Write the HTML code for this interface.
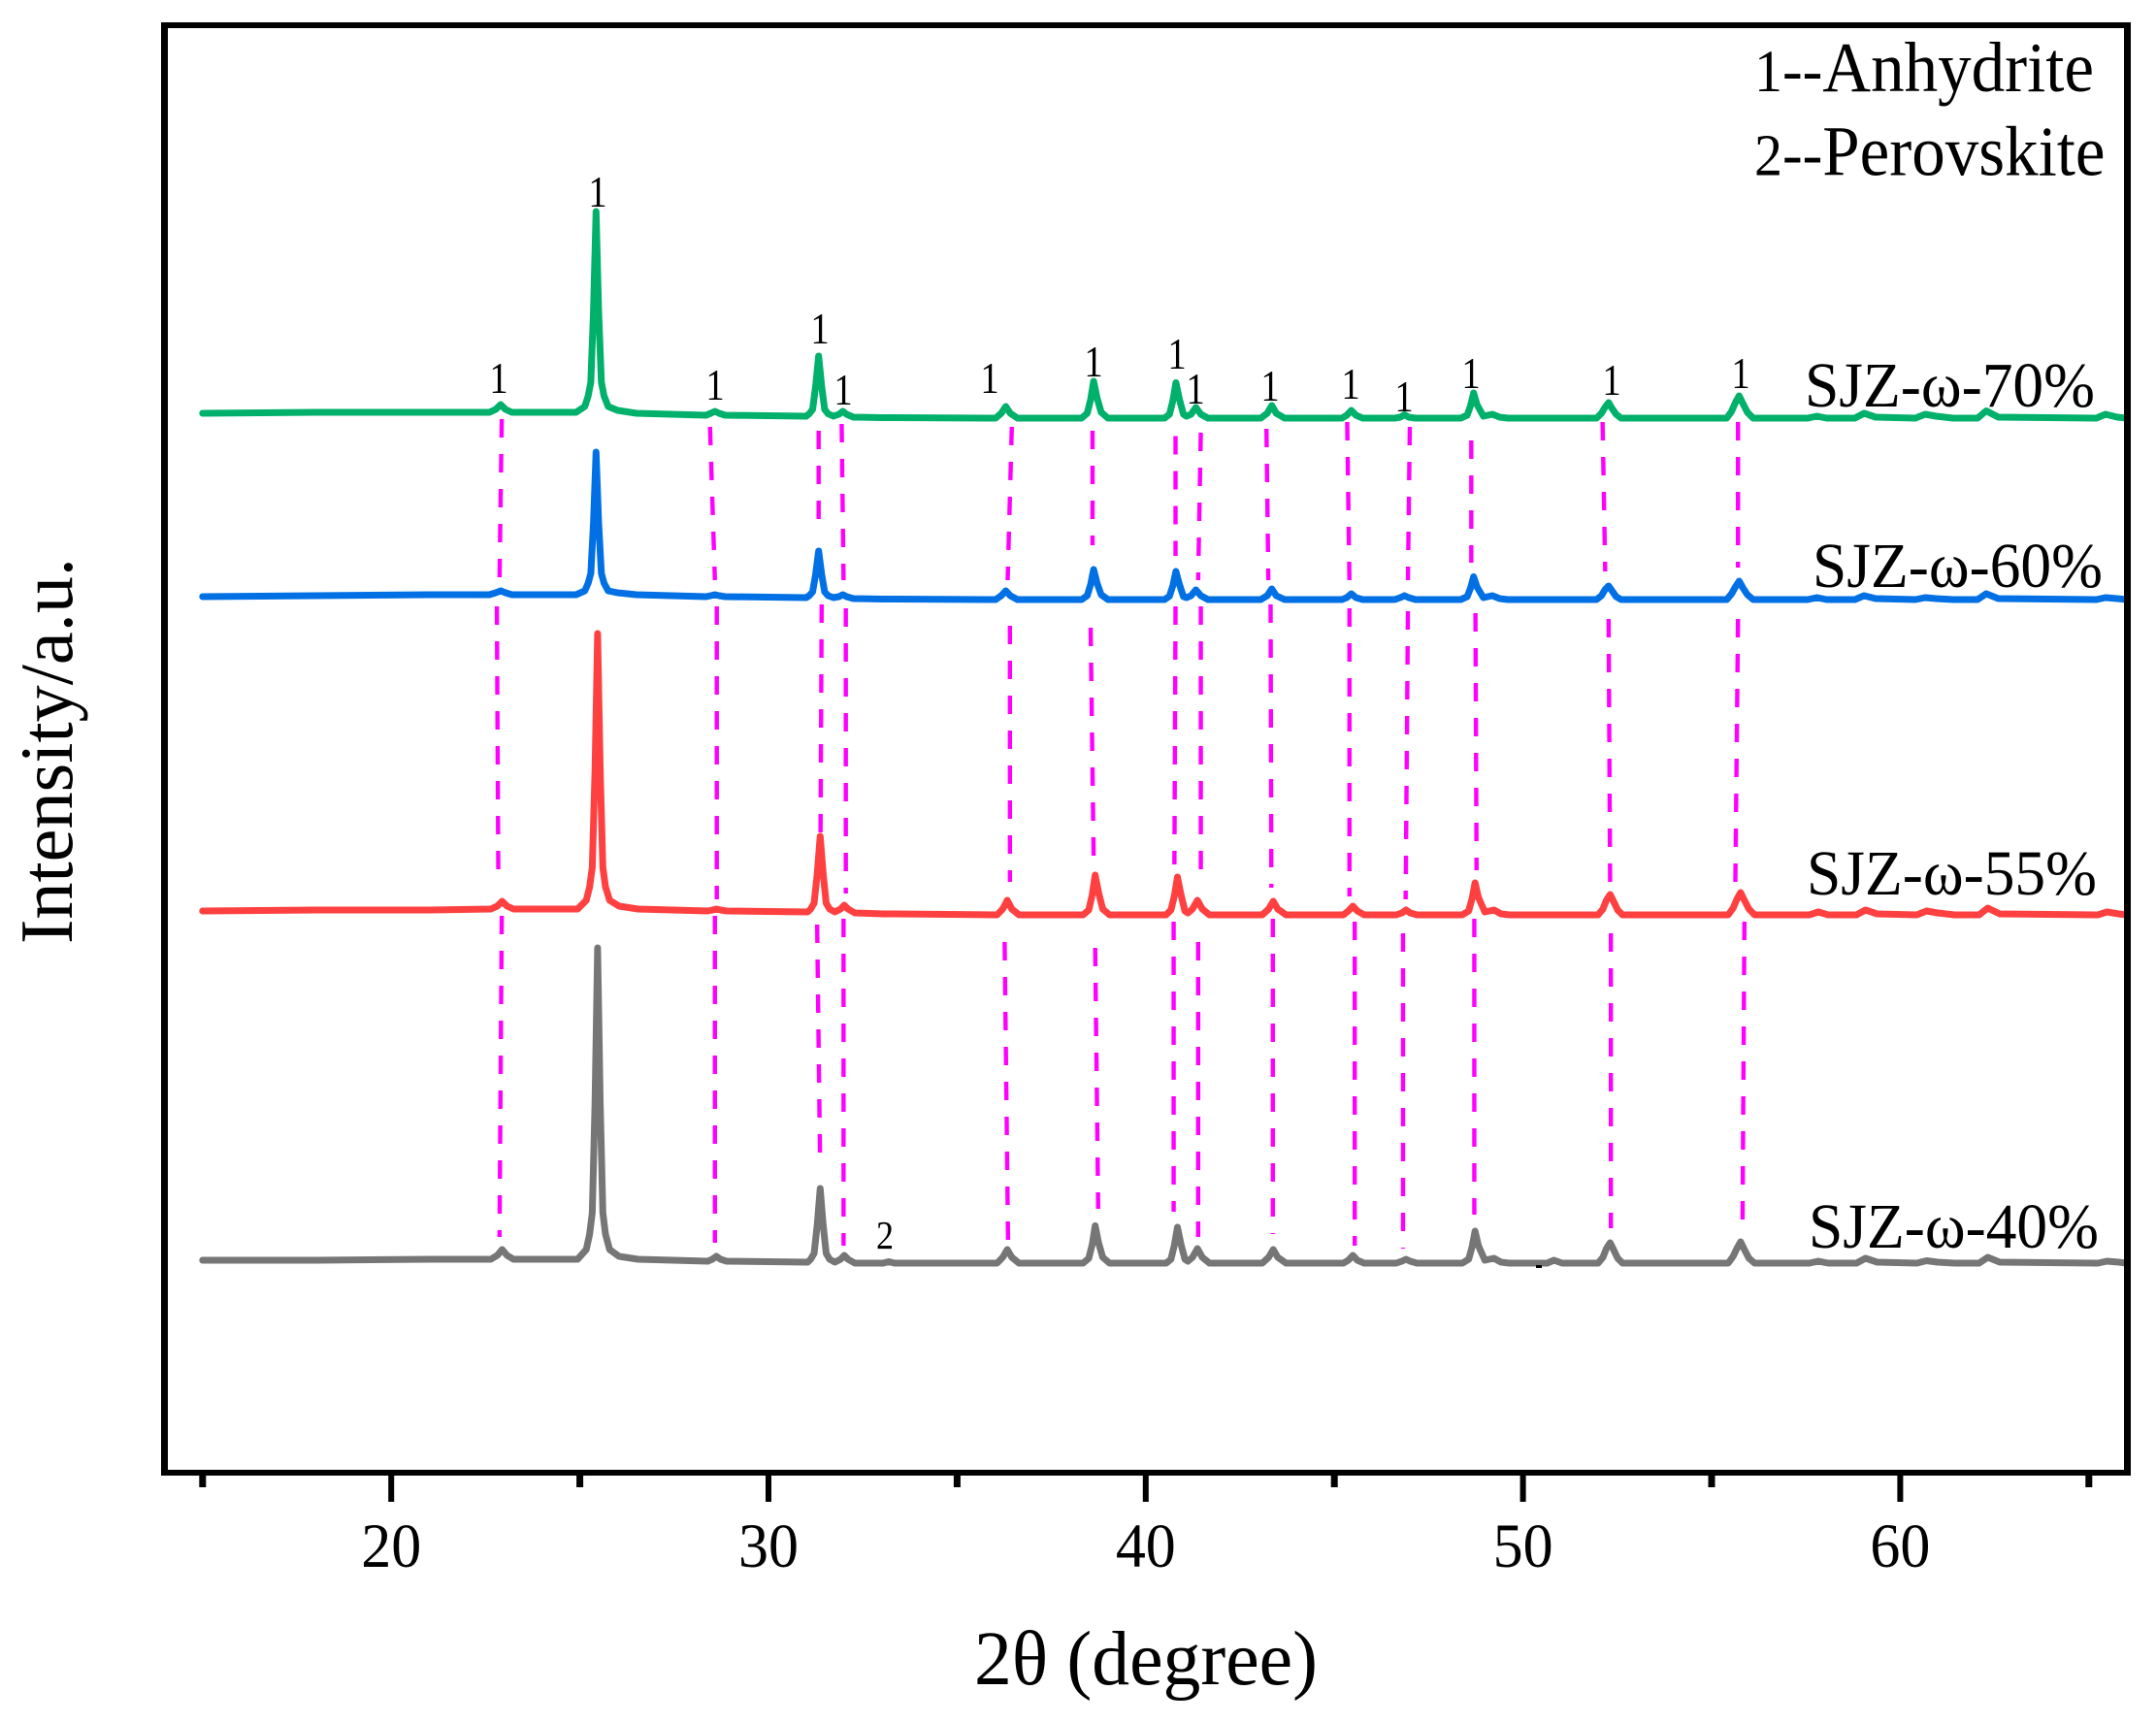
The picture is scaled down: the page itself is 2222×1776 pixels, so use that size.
<!DOCTYPE html>
<html lang="en">
<head>
<meta charset="utf-8">
<title>XRD patterns of SJZ-ω samples</title>
<style>
html,body{margin:0;padding:0;background:#fff;}
svg{display:block;}
text{font-family:"Liberation Serif",serif;fill:#000;}
</style>
</head>
<body>
<svg id="chart" xmlns="http://www.w3.org/2000/svg" width="2222" height="1776" viewBox="0 0 2222 1776">
  <rect x="0" y="0" width="2222" height="1776" fill="#ffffff"/>
  <g id="guides"></g>
  <g id="series"></g>
  <rect x="1583" y="1304" width="6" height="3" fill="#000"/>
  <g fill="#000">
    <rect x="166" y="23" width="7" height="1498"/>
    <rect x="2189" y="23" width="7" height="1498"/>
    <rect x="166" y="23" width="2030" height="6"/>
    <rect x="166" y="1515" width="2030" height="6"/>
  </g>
  <g id="ticks"></g>
  <g id="tick-labels"></g>

  <text transform="translate(1004,1736) scale(1,1.06)" font-size="75" textLength="354" lengthAdjust="spacingAndGlyphs">2θ (degree)</text>
  <text transform="translate(74,973) rotate(-90)" x="0" y="0" font-size="77" textLength="398" lengthAdjust="spacingAndGlyphs">Intensity/a.u.</text>

  <text transform="translate(1808,94) scale(1,1.06)" font-size="69"><tspan font-size="58">1</tspan><tspan font-size="62">--</tspan>Anhydrite</text>
  <text transform="translate(1808,180.5) scale(1,1.06)" font-size="69"><tspan font-size="58">2</tspan><tspan font-size="62">--</tspan>Perovskite</text>

  <text transform="translate(1860,419) scale(1,1.06)" font-size="62" textLength="299" lengthAdjust="spacingAndGlyphs">SJZ-ω-70%</text>
  <text transform="translate(1868,605) scale(1,1.06)" font-size="62" textLength="299" lengthAdjust="spacingAndGlyphs">SJZ-ω-60%</text>
  <text transform="translate(1862,922) scale(1,1.06)" font-size="62" textLength="299" lengthAdjust="spacingAndGlyphs">SJZ-ω-55%</text>
  <text transform="translate(1864,1286) scale(1,1.06)" font-size="62" textLength="299" lengthAdjust="spacingAndGlyphs">SJZ-ω-40%</text>

  <g font-size="42" text-anchor="middle">
    <text transform="translate(514,405) scale(.92,1.08)">1</text>
    <text transform="translate(616,213) scale(.92,1.08)">1</text>
    <text transform="translate(737,412) scale(.92,1.08)">1</text>
    <text transform="translate(845,354) scale(.92,1.08)">1</text>
    <text transform="translate(869,417) scale(.92,1.08)">1</text>
    <text transform="translate(1020,405) scale(.92,1.08)">1</text>
    <text transform="translate(1127,388) scale(.92,1.08)">1</text>
    <text transform="translate(1213,380) scale(.92,1.08)">1</text>
    <text transform="translate(1232,416) scale(.92,1.08)">1</text>
    <text transform="translate(1309,413) scale(.92,1.08)">1</text>
    <text transform="translate(1392,411) scale(.92,1.08)">1</text>
    <text transform="translate(1447,424) scale(.92,1.08)">1</text>
    <text transform="translate(1516,400) scale(.92,1.08)">1</text>
    <text transform="translate(1661,407) scale(.92,1.08)">1</text>
    <text transform="translate(1794,400) scale(.92,1.08)">1</text>
    <text transform="translate(912,1287) scale(.95,1.08)" font-size="38">2</text>
  </g>
</svg>

<script>
// ---- chart data ----
var twoTheta = [
15,18,21,22.6,22.77,22.9,23.03,23.2,
24.9,25.13,25.22,25.29,25.36,25.43,25.5,25.57,25.64,25.75,26,26.5,
28.35,28.47,28.58,28.69,28.85,
31,31.08,31.17,31.25,31.33,31.41,31.49,31.58,31.72,31.87,31.97,32.07,32.25,
33,33.15,33.3,
36.02,36.17,36.29,36.41,36.6,
38.3,38.45,38.54,38.62,38.71,38.82,39,
40.5,40.63,40.72,40.8,40.89,41,41.08,41.2,41.33,41.46,41.65,
43.05,43.22,43.34,43.46,43.68,
45.2,45.33,45.45,45.57,45.75,
46.6,46.75,46.86,46.97,47.15,
48.35,48.52,48.61,48.69,48.78,48.95,49.19,49.38,49.6,
50.6,50.78,51,
51.95,52.08,52.17,52.27,52.36,52.47,52.6,
55.4,55.53,55.63,55.73,55.83,55.95,56.1,
57.55,57.79,58.05,
58.8,59.04,59.35,
60.4,60.66,60.95,61.4,
62.05,62.28,62.6,
65.2,65.44,65.75,66];

var intensity70 = [
1092,1093,1093,1093,1096,1101,1096,1093,
1093,1099,1110,1124,1196,1300,1196,1124,1110,1099,1095,1092,
1090,1092,1094,1092,1090,
1089,1091.5,1096,1120,1151,1120,1096,1091.5,1089,1091,1094,1091,1088,
1087.5,1087.5,1087.5,
1087,1092,1099,1092,1087,
1087,1092,1106,1125,1108,1093,1087,
1087,1091,1105,1123.5,1107,1091,1089,1091,1098,1091,1087,
1087,1092,1100,1092,1087,
1087,1090,1095,1090,1087,
1087,1088,1090.5,1088,1087,
1087,1090,1100,1113,1101,1089,1091,1088,1087,
1087,1087,1087,
1087,1092,1098,1103,1097,1091,1087,
1087,1094,1103,1110,1102,1093,1087,
1087,1089,1087,
1087,1092,1088,
1087,1091,1089,1087,
1087,1094.5,1088,
1087,1091,1088,1087];

var intensity60 = [
903,904,905,905,907,909,907,905,
905,909,917,927,978,1052,978,927,917,909,907,905,
903,904,905,904,903,
902,904,908,926,950,926,908,904,902,903,905,903,901,
900.5,900.5,900.5,
900,904,909,904,900,
900,904,915.5,931,917,905,900,
900,903.5,914.5,929,916,903,902,904,910,904,900,
900,904,911,904,900,
900,902,906,902,900,
900,902,904,902,900,
900,903,912,923.5,913,902,904,901,900,
900,900,900,
900,904,910,914,909,903,900,
900,906,913,919,912,905,900,
900,902,900,
900,904,901,
900,902,901,900,
900,906,901,
900,902,901,900];

var intensity55 = [
579,580,580,581,584,589,584,581,
581,590,604,624,723,865,723,624,604,590,584,581,
579,580,581,580,579,
578,581,587,617,656,617,587,581,578,581,585,581,577,
576,576,576,
575,581,590,581,575,
575,580,595.5,616,598,581,575,
575,580,594.5,614,596.5,579,577,581,590,581,575,
575,581,589,581,575,
575,579,584,579,575,
575,577,580,577,575,
575,579,591.5,608,593,578,580,576,575,
575,575,575,
575,581,590,596,589,580,575,
575,582,591,598,590,581,575,
575,578,575,
575,580,576,
575,579,577,575,
575,582,576,
575,578,576,575];

var intensity40 = [
219,219,220,220,224,230,224,220,
220,230,246,268,380,541,380,268,246,230,223,220,
218,220,223,220,218,
217,220,226,255,293,255,226,220,217,220,224,220,216,
216,217.5,216,
216,222,230,222,216,
216,221,235,254.5,237,222,216,
216,220,234.5,253,236,220,218,222,231,222,216,
216,222,230,222,216,
216,219,224,219,216,
216,218,220,218,216,
216,220,232.5,249,234,219,221,217,216,
216,219,216,
216,222,231,237,230,221,216,
216,223,231,238,230,221,216,
216,218,216,
216,221,217,
216,218.5,217,216,
216,222,217,
216,218,217,216];

var seriesNames = ["sjz-40","sjz-55","sjz-60","sjz-70"];
var seriesColors = ["#767676","#ff4040","#0070e4","#00b06b"];
var seriesThetaOffset = [0.04,0.04,0,0];

var majorTicks = [20,30,40,50,60];
var minorTicks = [15,25,35,45,55,65];

// reference-line readings: 2θ at the start and end of each dashed run, per gap between patterns
var guideStartA = [22.93,28.45,31.33,31.94,36.45,38.59,40.79,41.46,43.20,45.34,47.00,48.63,52.11,55.70];
var guideEndA   = [22.87,28.58,31.33,31.99,36.34,38.59,40.79,41.39,43.25,45.40,46.95,48.63,52.18,55.70];
var guideTopA   = [1086,1078,1074,1081,1078,1074,1068.5,1072,1076,1083,1078,1064,1083,1083];
var guideLowA   = [920,920,976,920,920,956,945,920,920,920,920,938,929,933];

var guideStartB = [22.80,28.63,31.41,32.05,36.40,38.54,40.79,41.46,43.31,45.40,46.95,48.74,52.27,55.70];
var guideEndB   = [22.84,28.63,31.38,32.05,36.40,38.62,40.76,41.46,43.33,45.40,46.89,48.77,52.31,55.63];
var guideTopB   = [893,893,895,891,873,871,893,893,895,891,888,886,880,880];
var guideLowB   = [608,591,658,597,609,633,627,609,603,594,591,621,609,609];

var guideStartC = [22.93,28.58,31.29,31.99,36.26,38.66,40.74,41.39,43.37,45.54,46.82,48.71,52.33,55.87];
var guideEndC   = [22.87,28.58,31.37,31.99,36.35,38.74,40.74,41.39,43.37,45.54,46.82,48.71,52.33,55.82];
var guideTopC   = [574,574,565,571,547,541,568,547,571,568,556,571,556,568];
var guideLowC   = [243,237,314,234,240,272,269,243,246,234,231,266,252,260];

// ---- axis functions ----
var X_ORIGIN = 403.2, X_PER_DEGREE = 38.88, Y_BOTTOM = 1518;
function xScale(theta){ return X_ORIGIN + (theta - 20) * X_PER_DEGREE; }
function yScale(value){ return Y_BOTTOM - value; }

var NS = "http://www.w3.org/2000/svg";
var allSeries = [intensity40, intensity55, intensity60, intensity70];

// dashed guide lines
var guideLayer = document.getElementById("guides");
function drawGuides(starts, ends, tops, lows){
  for (var i = 0; i < starts.length; i++){
    var g = document.createElementNS(NS, "line");
    g.setAttribute("x1", xScale(starts[i]));
    g.setAttribute("y1", yScale(tops[i]));
    g.setAttribute("x2", xScale(ends[i]));
    g.setAttribute("y2", yScale(lows[i]));
    g.setAttribute("stroke", "#ff00ff");
    g.setAttribute("stroke-width", "4.4");
    g.setAttribute("stroke-dasharray", "19 17");
    
    
    guideLayer.appendChild(g);
  }
}
drawGuides(guideStartA, guideEndA, guideTopA, guideLowA);
drawGuides(guideStartB, guideEndB, guideTopB, guideLowB);
drawGuides(guideStartC, guideEndC, guideTopC, guideLowC);

// diffraction patterns
var seriesLayer = document.getElementById("series");
allSeries.forEach(function(values, s){
  var pts = [];
  for (var i = 0; i < twoTheta.length; i++){
    var t = twoTheta[i] + (i === twoTheta.length - 1 || i === 0 ? 0 : seriesThetaOffset[s]);
    pts.push(xScale(t).toFixed(1) + "," + yScale(values[i]).toFixed(1));
  }
  var line = document.createElementNS(NS, "polyline");
  line.setAttribute("points", pts.join(" "));
  line.setAttribute("fill", "none");
  line.setAttribute("stroke", seriesColors[s]);
  line.setAttribute("stroke-width", "7");
  line.setAttribute("stroke-linejoin", "round");
  line.setAttribute("stroke-linecap", "round");
  
  
  seriesLayer.appendChild(line);
});

// x axis ticks and labels
var tickLayer = document.getElementById("ticks");
var labelLayer = document.getElementById("tick-labels");
majorTicks.forEach(function(t){
  var m = document.createElementNS(NS, "line");
  m.setAttribute("x1", xScale(t));
  m.setAttribute("x2", xScale(t));
  m.setAttribute("y1", 1518);
  m.setAttribute("y2", 1548);
  m.setAttribute("stroke", "#000");
  m.setAttribute("stroke-width", "6");
  
  
  tickLayer.appendChild(m);
  var label = document.createElementNS(NS, "text");
  label.setAttribute("transform", "translate(" + xScale(t) + ",1615) scale(1,1.05)");
  label.setAttribute("font-size", "62");
  label.setAttribute("text-anchor", "middle");
  label.textContent = String(t);
  
  
  labelLayer.appendChild(label);
});
minorTicks.forEach(function(t){
  var m = document.createElementNS(NS, "line");
  m.setAttribute("x1", xScale(t));
  m.setAttribute("x2", xScale(t));
  m.setAttribute("y1", 1518);
  m.setAttribute("y2", 1533);
  m.setAttribute("stroke", "#000");
  m.setAttribute("stroke-width", "7");
  
  
  tickLayer.appendChild(m);
});
</script>
</body>
</html>
